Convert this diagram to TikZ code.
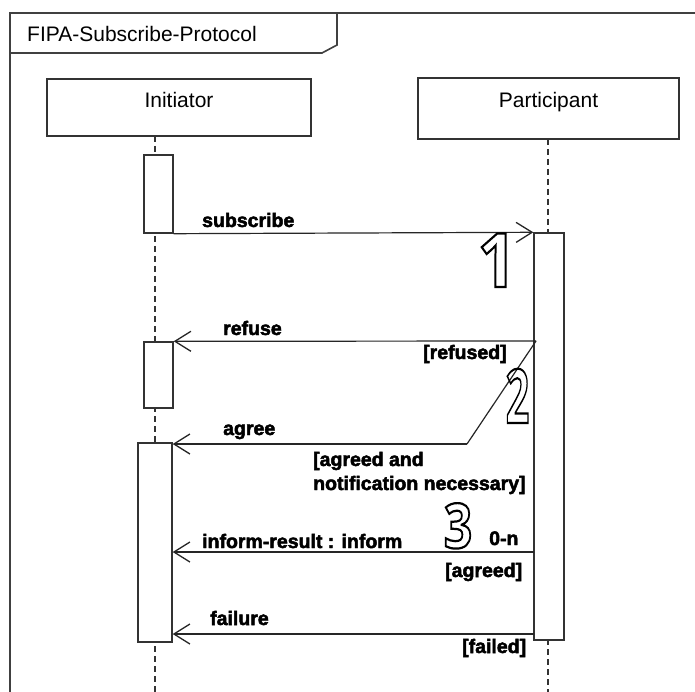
\documentclass[tikz,border=0pt]{standalone}
\usepackage{fontspec}
\usepackage{graphicx}
\setmainfont{Liberation Sans}
\newfontfamily\digitfont{Open Sans}
\newfontfamily\lblfont[FakeBold=2.5]{Liberation Sans Bold}
\usetikzlibrary{arrows.meta}
\newcommand{\outlinetext}[1]{\special{pdf:literal direct 1 Tr 2.2 w}#1\special{pdf:literal direct 0 Tr}}
\begin{document}
\begin{tikzpicture}[x=1pt,y=-1pt,
  frame/.style={draw=black!75, line width=1.6pt},
  box/.style={draw=black!80, line width=1.4pt, fill=white, inner sep=0pt},
  life/.style={draw=black!80, line width=1.2pt, dash pattern=on 6pt off 4pt},
  plain/.style={draw=black!85, line width=1.2pt},
  msg/.style={plain, -{Straight Barb[length=16pt,width=20pt,line width=1.3pt]}},
  lbl/.style={font=\fontsize{19.5}{22}\lblfont, inner sep=0pt, anchor=base west},
  head/.style={font=\fontsize{21}{24}\selectfont, inner sep=0pt, anchor=base},
  digit/.style={inner sep=0pt, anchor=base, font=\digitfont\bfseries},
]
\useasboundingbox[fill=white] (0,0) rectangle (695,692);

% frame
\coordinate (f-tl) at (10,13);
\coordinate (f-tr) at (695,13);
\coordinate (f-bl) at (10,692);
\draw[frame] (f-tr) -- (f-tl) -- (f-bl);
\coordinate (t-bl) at (10,53);
\coordinate (t-c1) at (322,53);
\coordinate (t-c2) at (337,45);
\coordinate (t-tr) at (337,13);
\draw[frame] (t-bl) -- (t-c1) -- (t-c2) -- (t-tr);
\node[head, anchor=base west] (title) at (27,42) {FIPA-Subscribe-Protocol};

% lifeline heads
\node[box, minimum width=264pt, minimum height=57pt] (ini) at (179,107.5) {};
\node[head] (ini-t) at (179,108) {Initiator};
\node[box, minimum width=261pt, minimum height=61pt] (par) at (548.5,108.5) {};
\node[head] (par-t) at (548.5,108) {Participant};

% lifelines
\coordinate (ini-top) at (155,136);
\coordinate (ini-bot) at (155,692);
\coordinate (par-top) at (548,139);
\coordinate (par-bot) at (548,692);
\draw[life] (ini-top) -- (ini-bot);
\draw[life] (par-top) -- (par-bot);

% activations
\node[box, minimum width=29pt, minimum height=78pt] (a1) at (158.5,194) {};
\node[box, minimum width=29pt, minimum height=66pt] (a2) at (158.5,375) {};
\node[box, minimum width=34pt, minimum height=199pt] (a3) at (155,542.5) {};
\node[box, minimum width=30pt, minimum height=407pt] (p1) at (549,436.5) {};

% messages
\draw[msg] (a1.south east) -- (p1.north west);
\coordinate (ref-s) at (536,341);
\draw[msg] (ref-s) -- (a2.north east);
\coordinate (agr-s) at (467,444);
\draw[plain] (ref-s) -- (agr-s);
\draw[msg] (agr-s) -- (a3.north east |- agr-s);
\coordinate (inf-s) at (534,552);
\draw[msg] (inf-s) -- (a3.east |- inf-s);
\coordinate (fail-s) at (534,634);
\draw[msg] (fail-s) -- (a3.east |- fail-s);

% outlined step numbers
\node[digit] (d1) at (497,287) {\fontsize{75}{80}\selectfont\scalebox{0.9}[1]{\outlinetext{1}}};
\node[digit] (d2) at (517.5,423) {\fontsize{75}{80}\selectfont\scalebox{0.55}[1]{\outlinetext{2}}};
\node[digit] (d3) at (458,548) {\fontsize{62}{70}\selectfont\scalebox{0.8}[1]{\outlinetext{3}}};

% labels
\node[lbl] (l-sub) at (202,227) {subscribe};
\node[lbl] (l-ref) at (223,335) {refuse};
\node[lbl] (g-ref) at (423,359) {[refused]};
\node[lbl] (l-agr) at (223,435) {agree};
\node[lbl] (g-agr1) at (313,466) {[agreed and};
\node[lbl] (g-agr2) at (313,490) {notification necessary]};
\node[lbl] (l-inf) at (202,548) {inform-result : inform};
\node[lbl] (l-0n) at (489,545) {0-n};
\node[lbl] (g-agr3) at (445,577) {[agreed]};
\node[lbl] (l-fail) at (210,625) {failure};
\node[lbl] (g-fail) at (462,653) {[failed]};
\end{tikzpicture}
\end{document}
